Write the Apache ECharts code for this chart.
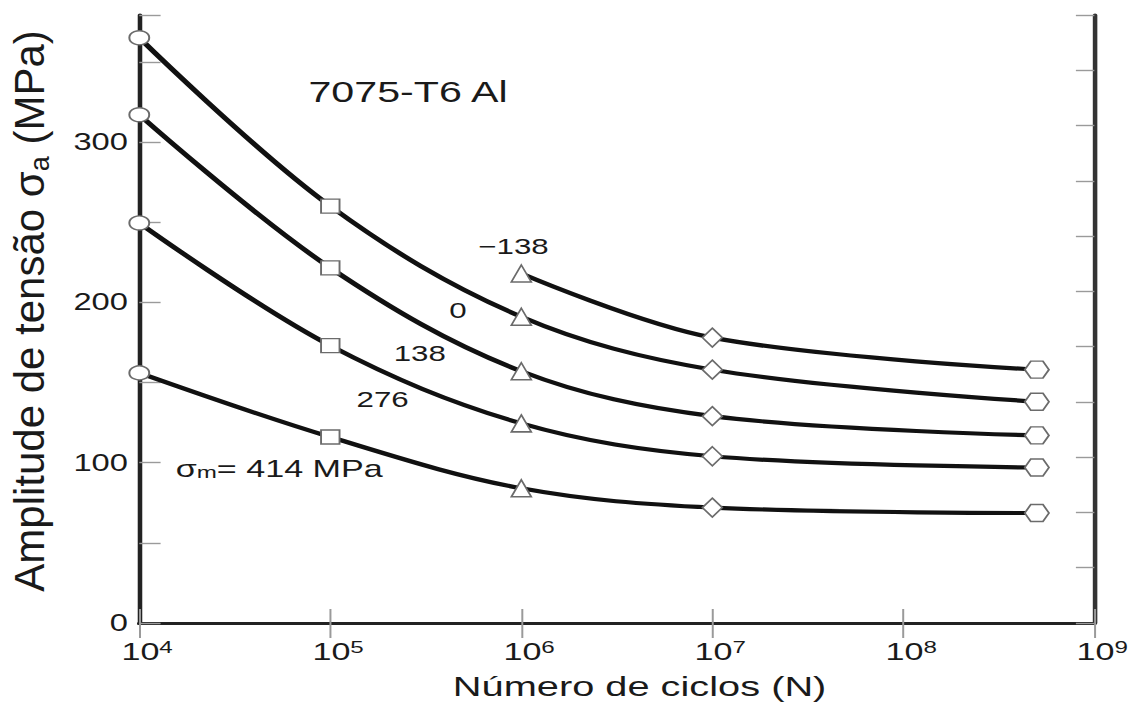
<!DOCTYPE html>
<html>
<head>
<meta charset="utf-8">
<script src="https://cdn.jsdelivr.net/npm/echarts@6/dist/echarts.min.js"></script>
<style>
  html, body { margin: 0; padding: 0; background: #fff; overflow: hidden; }
  /* the source figure is stretched sideways, so the chart is drawn narrow and widened */
  #chart { width: 800px; height: 707px; transform: scaleX(1.42125); transform-origin: 0 0; }
</style>
</head>
<body>
<div id="chart"></div>
<script>
const STRETCH = 1137 / 800;

// number of cycles where the test points sit
const cycles = [1e4, 1e5, 1e6, 1e7, 5e8];
const cyclesNeg = [1e6, 1e7, 5e8];

// stress amplitude (MPa) for each mean stress
const ampNeg138 = [218, 178, 158];
const amp0 = [365, 260, 191, 158, 138];
const amp138 = [317, 221.5, 157, 129, 117];
const amp276 = [249.5, 173, 124.5, 104, 97];
const amp414 = [156, 116, 84, 72, 68.6];

const yLabels = [0, 100, 200, 300];
const ksiMax = 55;
const mpaMax = ksiMax * 6.894757;

const font = '"Liberation Sans", Arial, Helvetica, sans-serif';
const ink = '#1a1a1a';

const hexagon = 'path://M25,0 L75,0 L100,50 L75,100 L25,100 L0,50 Z';
const markers = {
  1e4: { symbol: 'circle', size: [14, 14] },
  1e5: { symbol: 'rect', size: [13, 14] },
  1e6: { symbol: 'triangle', size: [14, 17] },
  1e7: { symbol: 'diamond', size: [14, 19] },
  5e8: { symbol: hexagon, size: [17, 17] }
};

function makeSeries(name, xs, ys, note) {
  return {
    name: name,
    type: 'line',
    smooth: 0.35,
    showAllSymbol: true,
    lineStyle: { color: '#111', width: 4.2 },
    itemStyle: { color: '#fff', borderColor: '#6b6b6b', borderWidth: 1.4 },
    z: 3,
    data: xs.map((x, i) => ({
      value: [x, ys[i]],
      symbol: markers[x].symbol,
      symbolSize: markers[x].size
    })),
    markPoint: {
      symbol: 'circle',
      symbolSize: 1,
      itemStyle: { color: 'rgba(0,0,0,0)' },
      label: {
        show: true,
        position: 'inside',
        color: ink,
        fontFamily: font,
        fontSize: 22,
        formatter: note.text,
        rich: {
          t: { fontSize: 24, fontFamily: font, color: ink },
          sub: { fontSize: 17, fontFamily: font, color: ink, verticalAlign: 'bottom', lineHeight: 22 }
        }
      },
      data: [{ coord: note.at }]
    }
  };
}

const chart = echarts.init(document.getElementById('chart'), null, { renderer: 'svg' });

const option = {
  animation: false,
  backgroundColor: '#fff',
  title: {
    text: '7075-T6 Al',
    left: 212,
    top: 73,
    textStyle: { fontFamily: font, fontSize: 29, fontWeight: 'normal', color: ink }
  },
  grid: { left: 98, right: 30, top: 15, bottom: 84 },
  xAxis: [
    {
      type: 'log',
      logBase: 10,
      min: 1e4,
      max: 1e9,
      position: 'bottom',
      name: 'Número de ciclos (N)',
      nameLocation: 'middle',
      nameGap: 49,
      nameTextStyle: { fontFamily: font, fontSize: 28, color: ink, padding: [0, 0, 0, 32] },
      axisLine: { lineStyle: { color: '#222', width: 3.2 } },
      axisTick: { inside: true, length: 14, lineStyle: { color: '#9a9a9a', width: 1.4 } },
      axisLabel: {
        margin: 15,
        padding: [0, 0, 0, 11],
        formatter: v => '{b|10}{sup|' + Math.round(Math.log10(v)) + '}',
        rich: {
          b: { fontFamily: font, fontSize: 24, color: ink, lineHeight: 27 },
          sup: { fontFamily: font, fontSize: 17, color: ink, lineHeight: 21, verticalAlign: 'top' }
        }
      },
      splitLine: { show: false }
    },
    {
      type: 'log',
      logBase: 10,
      min: 1e4,
      max: 1e9,
      position: 'top',
      axisLine: { lineStyle: { color: '#222', width: 3.2 } },
      axisTick: { inside: true, length: 15, lineStyle: { color: '#9a9a9a', width: 1.4 } },
      axisLabel: { show: false },
      splitLine: { show: false }
    }
  ],
  yAxis: [
    {
      type: 'value',
      min: 0,
      max: mpaMax,
      interval: 50,
      position: 'left',
      axisLine: { show: true, lineStyle: { color: '#222', width: 3.2 } },
      axisTick: { inside: true, length: 15, lineStyle: { color: '#9a9a9a', width: 1.4 } },
      axisLabel: {
        margin: 8,
        fontFamily: font,
        fontSize: 23,
        color: ink,
        formatter: v => (yLabels.includes(v) ? String(v) : '')
      },
      splitLine: { show: false }
    },
    {
      // right edge carries ksi ticks (every 5 ksi), unlabeled
      type: 'value',
      min: 0,
      max: ksiMax,
      interval: 5,
      position: 'right',
      axisLine: { show: true, lineStyle: { color: '#333', width: 3.2 } },
      axisTick: { inside: true, length: 13, lineStyle: { color: '#9a9a9a', width: 1.4 } },
      axisLabel: { show: false },
      splitLine: { show: false }
    }
  ],
  graphic: [
    {
      type: 'text',
      x: 20.5,
      y: 311,
      rotation: Math.PI / 2,
      scaleY: 1 / STRETCH,
      style: {
        text: '{n|Amplitude de tensão σ}{sub|a}{n| (MPa)}',
        align: 'center',
        verticalAlign: 'middle',
        textAlign: 'center',
        textVerticalAlign: 'middle',
        fill: ink,
        rich: {
          n: { fontFamily: font, fontSize: 42, fill: ink, lineHeight: 48 },
          sub: { fontFamily: font, fontSize: 27, fill: ink, lineHeight: 31, verticalAlign: 'bottom' }
        }
      }
    }
  ],
  series: [
    makeSeries('-138', cyclesNeg, ampNeg138, { text: '−138', at: [9.1e5, 235] }),
    makeSeries('0', cycles, amp0, { text: '0', at: [4.66e5, 195] }),
    makeSeries('138', cycles, amp138, { text: '138', at: [2.94e5, 168] }),
    makeSeries('276', cycles, amp276, { text: '276', at: [1.88e5, 139] }),
    makeSeries('414', cycles, amp414, { text: '{t|σ}{sub|m}{t|= 414 MPa}', at: [5.4e4, 96.5] })
  ]
};

chart.setOption(option);
</script>
</body>
</html>
